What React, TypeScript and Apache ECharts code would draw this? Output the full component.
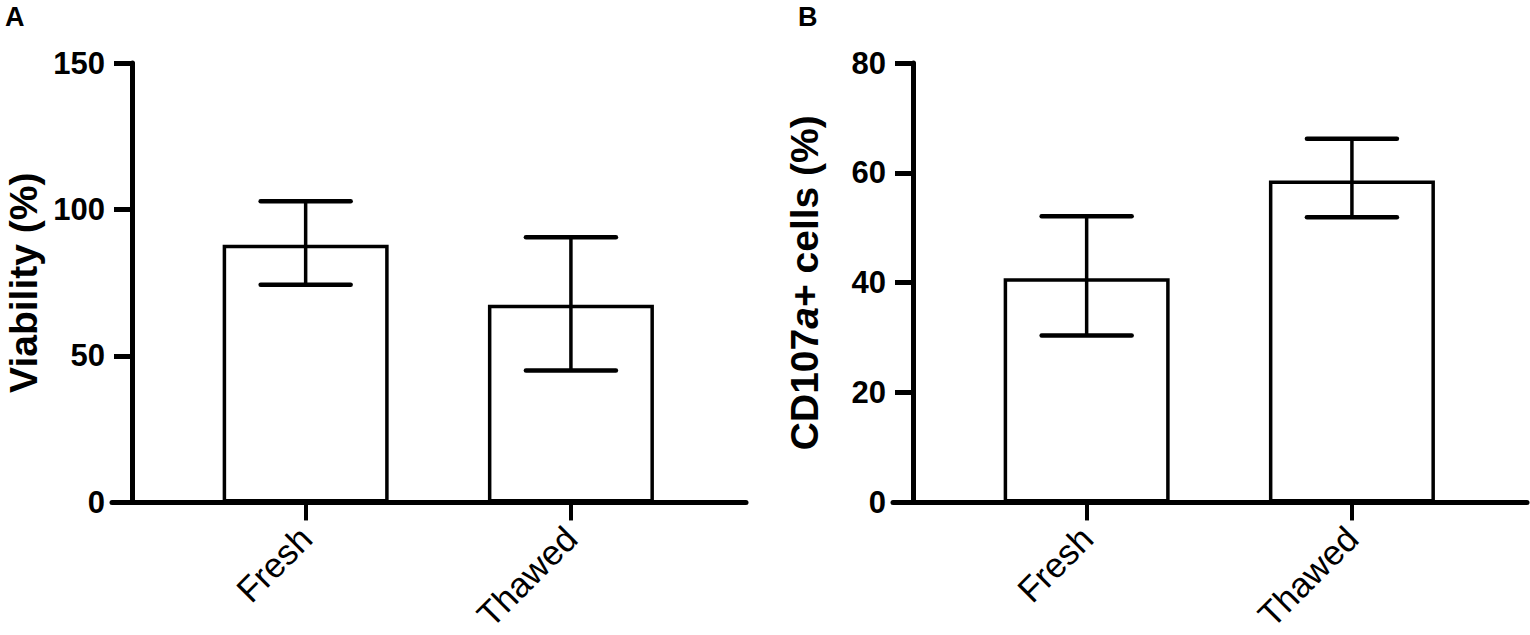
import React, { useEffect, useRef } from "react";
import * as echarts from "echarts";

// ---- data ----
const categories = ["Fresh", "Thawed"];
const viabilityMean = [88, 67.5];
const viabilityLow = [74.3, 45];
const viabilityHigh = [102.8, 90.5];
const cd107Mean = [40.8, 58.6];
const cd107Low = [30.4, 51.9];
const cd107High = [52.1, 66.2];
const viabilityTicks = { min: 0, max: 150, interval: 50 };
const cd107Ticks = { min: 0, max: 80, interval: 20 };

const FONT = "'Liberation Sans', Arial, Helvetica, sans-serif";

function errRender(params: any, api: any) {
  const x = api.value(0);
  const lo = api.value(1);
  const hi = api.value(2);
  const pLo = api.coord([x, lo]);
  const pHi = api.coord([x, hi]);
  const half = 45;
  return {
    type: "group",
    children: [
      { type: "line", shape: { x1: pLo[0], y1: pLo[1], x2: pHi[0], y2: pHi[1] }, style: { stroke: "#000", lineWidth: 3.5 } },
      { type: "line", shape: { x1: pHi[0] - half, y1: pHi[1], x2: pHi[0] + half, y2: pHi[1] }, style: { stroke: "#000", lineWidth: 4.5, lineCap: "round" } },
      { type: "line", shape: { x1: pLo[0] - half, y1: pLo[1], x2: pLo[0] + half, y2: pLo[1] }, style: { stroke: "#000", lineWidth: 4.5, lineCap: "round" } },
    ],
  };
}

function makeX(gridIndex: number) {
  return {
    type: "value",
    gridIndex,
    min: -0.73,
    max: 1.66,
    axisLine: { show: true, onZero: false, lineStyle: { color: "#000", width: 5 } },
    axisTick: { show: true, customValues: [0, 1], length: 18, lineStyle: { color: "#000", width: 4 } },
    axisLabel: {
      show: true,
      customValues: [0, 1],
      formatter: (v: number) => categories[Math.round(v)] ?? "",
      rotate: 45,
      margin: 30,
      fontSize: 35,
      color: "#000",
      fontFamily: FONT,
    },
    splitLine: { show: false },
  };
}

function makeY(gridIndex: number, ticks: any, name: string, rich?: any) {
  return {
    type: "value",
    gridIndex,
    position: "left",
    offset: -20,
    min: ticks.min,
    max: ticks.max,
    interval: ticks.interval,
    name,
    nameLocation: "middle",
    nameGap: 89,
    nameTextStyle: { fontSize: 39, fontWeight: "bold", color: "#000", fontFamily: FONT, rich },
    axisLine: { show: true, onZero: false, lineStyle: { color: "#000", width: 5 } },
    axisTick: { show: true, length: 18, lineStyle: { color: "#000", width: 5 } },
    axisLabel: { fontSize: 31, fontWeight: "bold", color: "#000", fontFamily: FONT, margin: 27 },
    splitLine: { show: false },
  };
}

export default function App() {
  const ref = useRef<HTMLDivElement>(null);
  useEffect(() => {
    document.body.style.margin = "0";
    const chart = echarts.init(ref.current!, null, { renderer: "svg" });
    const richB = {
      i: { fontStyle: "italic", fontWeight: "bold", fontSize: 39, color: "#000", fontFamily: FONT },
    };
    chart.setOption({
      animation: false,
      backgroundColor: "#fff",
      title: [
        { text: "A", left: 0, top: -2, textStyle: { fontSize: 27, fontWeight: "bold", color: "#000", fontFamily: FONT } },
        { text: "B", left: 793, top: -2, textStyle: { fontSize: 27, fontWeight: "bold", color: "#000", fontFamily: FONT } },
      ],
      grid: [
        { left: 112, top: 63, width: 634, height: 441 },
        { left: 893, top: 63, width: 634, height: 441 },
      ],
      xAxis: [makeX(0), makeX(1)],
      yAxis: [
        makeY(0, viabilityTicks, "Viability (%)"),
        makeY(1, cd107Ticks, "CD107{i|a}+ cells (%)", richB),
      ],
      series: [
        {
          type: "bar",
          xAxisIndex: 0,
          yAxisIndex: 0,
          barWidth: 166,
          data: viabilityMean.map((v, i) => [i, v]),
          itemStyle: { color: "#fff", borderColor: "#000", borderWidth: 3.5 },
        },
        {
          type: "custom",
          xAxisIndex: 0,
          yAxisIndex: 0,
          renderItem: errRender,
          encode: { x: 0, y: [1, 2] },
          data: viabilityMean.map((_, i) => [i, viabilityLow[i], viabilityHigh[i]]),
          z: 5,
        },
        {
          type: "bar",
          xAxisIndex: 1,
          yAxisIndex: 1,
          barWidth: 166,
          data: cd107Mean.map((v, i) => [i, v]),
          itemStyle: { color: "#fff", borderColor: "#000", borderWidth: 3.5 },
        },
        {
          type: "custom",
          xAxisIndex: 1,
          yAxisIndex: 1,
          renderItem: errRender,
          encode: { x: 0, y: [1, 2] },
          data: cd107Mean.map((_, i) => [i, cd107Low[i], cd107High[i]]),
          z: 5,
        },
      ],
    });
    return () => chart.dispose();
  }, []);
  return <div ref={ref} style={{ position: "fixed", left: 0, top: 0, width: 1530, height: 635 }} />;
}
